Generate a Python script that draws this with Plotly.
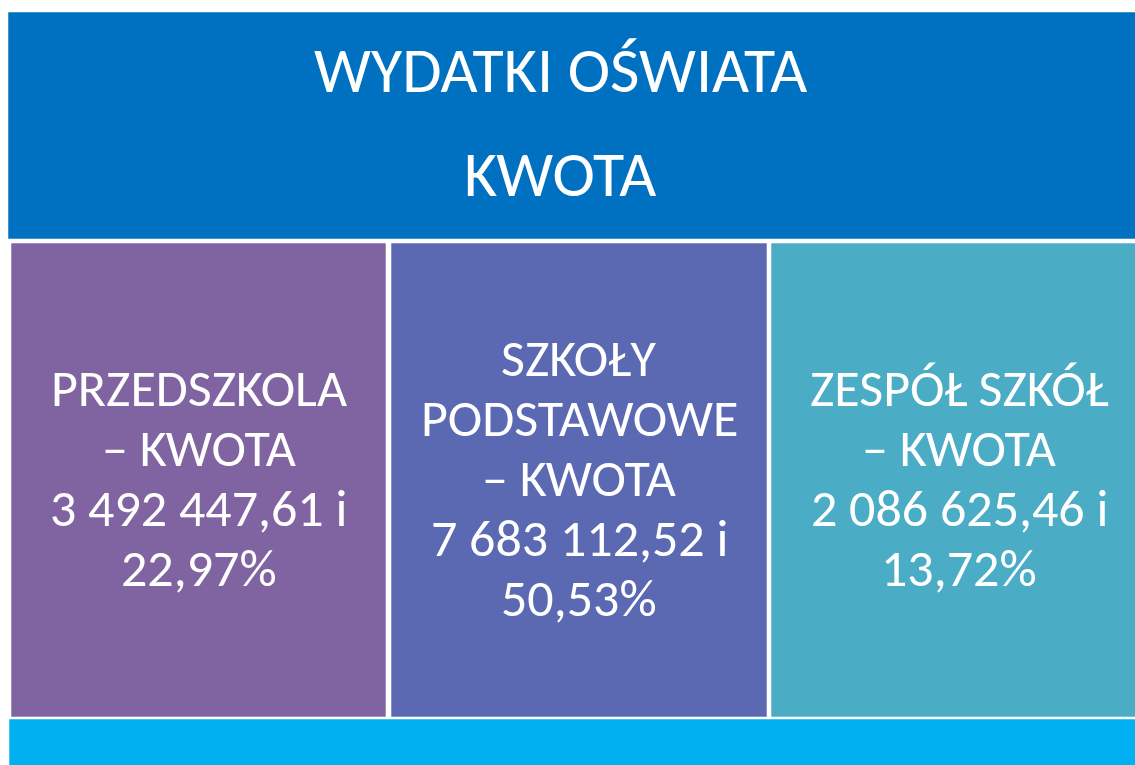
import plotly.graph_objects as go

# ---- data ----
title_lines = ["WYDATKI OŚWIATA", "KWOTA"]
categories = [["PRZEDSZKOLA"], ["SZKOŁY", "PODSTAWOWE"], ["ZESPÓŁ SZKÓŁ"]]
amounts = [3492447.61, 7683112.52, 2086625.46]
percents = [22.97, 50.53, 13.72]
box_colors = ["#8064A2", "#5B68B2", "#4BACC6"]
header_color = "#0070C0"
footer_color = "#00B0F0"

W, H = 1135, 765
FONT = "Carlito, Calibri, Lato, sans-serif"


def fmt_amount(v):
    s = f"{v:,.2f}"
    return s.replace(",", " ").replace(".", ",")


def fmt_pct(p):
    return f"{p:.2f}".replace(".", ",") + "%"


fig = go.Figure()
shapes = []
annotations = []

# header box
shapes.append(dict(type="rect", x0=8, x1=1150, y0=12, y1=239,
                   fillcolor=header_color, line=dict(color="rgba(255,255,255,0.5)", width=1)))
# footer bar
shapes.append(dict(type="rect", x0=9, x1=1150, y0=719, y1=790,
                   fillcolor=footer_color, line=dict(color="rgba(255,255,255,0.5)", width=1)))

# three boxes
box_x = [(11, 386), (391, 767), (771, 1147)]
box_y0, box_y1 = 243, 717
pitch = 60
for (x0, x1), col, cat, amt, pct in zip(box_x, box_colors, categories, amounts, percents):
    shapes.append(dict(type="rect", x0=x0, x1=x1, y0=box_y0, y1=box_y1,
                       fillcolor=col, line=dict(color="rgba(255,255,255,0.55)", width=1)))
    lines = cat + ["– KWOTA", fmt_amount(amt) + " i", fmt_pct(pct)]
    n = len(lines)
    yc = (box_y0 + box_y1) / 2
    xc = (x0 + x1) / 2
    for i, ln in enumerate(lines):
        y = yc + (i - (n - 1) / 2) * pitch
        annotations.append(dict(x=xc, y=y - 2, text=ln, showarrow=False,
                                xanchor="center", yanchor="middle",
                                font=dict(family=FONT, size=52, color="white")))

# header text
for ln, y in zip(title_lines, [73, 176.5]):
    annotations.append(dict(x=560, y=y - 3, text=ln, showarrow=False,
                            xanchor="center", yanchor="middle",
                            font=dict(family=FONT, size=64, color="white")))

fig.update_layout(
    width=W, height=H,
    margin=dict(l=0, r=0, t=0, b=0),
    paper_bgcolor="white", plot_bgcolor="white",
    xaxis=dict(range=[0, W], visible=False, fixedrange=True),
    yaxis=dict(range=[H, 0], visible=False, fixedrange=True),
    shapes=shapes, annotations=annotations, showlegend=False,
)

fig.write_html(
    "out.html",
    config={"displayModeBar": False},
    post_script="document.body.style.margin='0';document.body.style.overflow='hidden';",
)
